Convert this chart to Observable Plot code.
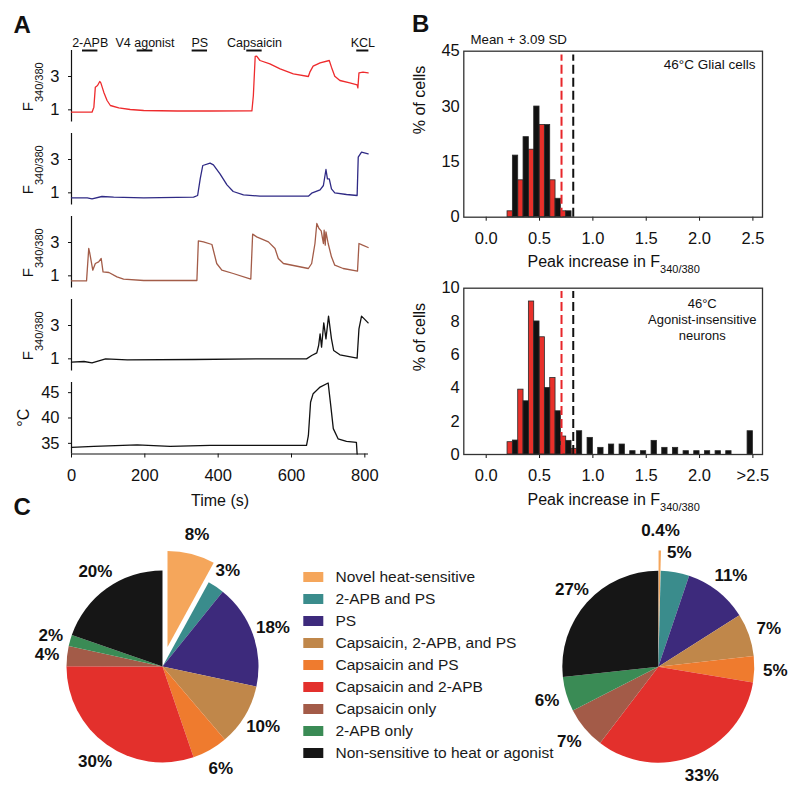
<!DOCTYPE html>
<html><head><meta charset="utf-8">
<script src="https://cdn.jsdelivr.net/npm/d3@7"></script>
<script src="https://cdn.jsdelivr.net/npm/@observablehq/plot@0.6"></script>
<style>
html,body{margin:0;padding:0;background:#fff;overflow:hidden;}
#fig{position:relative;width:800px;height:806px;background:#fff;}
#fig svg{position:absolute;left:0;top:0;max-width:none;overflow:visible;background:transparent;}
</style></head><body><div id="fig"></div>
<script>
const FONT = '"Liberation Sans", Arial, Helvetica, sans-serif';

// ---------- Panel A data ----------
const stimNames = ["2-APB", "V4 agonist", "PS", "Capsaicin", "KCL"];
const stimStart = [30, 179, 329, 478, 778];
const stimEnd   = [72, 222, 371, 520, 811];

const redT = [0, 56, 61, 65, 71, 77, 80, 88, 97, 106, 129, 160, 197, 288, 378, 492, 496, 501, 505, 514, 541, 569, 605, 646, 650, 659, 678, 703, 709, 718, 732, 759, 779, 781, 784, 795, 809];
const redF = [0.86, 0.86, 1.16, 2.36, 2.46, 2.7, 2.62, 2.06, 1.56, 1.26, 1.12, 1.02, 0.96, 0.93, 0.93, 0.94, 1.86, 4.2, 4.22, 3.96, 3.76, 3.46, 3.16, 3.0, 3.26, 3.62, 3.82, 3.96, 3.56, 3.02, 2.76, 2.62, 2.5, 2.32, 3.22, 3.26, 3.22];

const blueT = [0, 43, 56, 83, 115, 197, 333, 344, 351, 358, 378, 387, 405, 424, 441, 469, 514, 646, 655, 678, 687, 694, 698, 703, 709, 718, 750, 779, 782, 791, 809];
const blueF = [0.7, 0.7, 0.64, 0.78, 0.74, 0.7, 0.74, 0.84, 1.84, 2.64, 2.78, 2.68, 2.14, 1.48, 1.08, 0.88, 0.8, 0.8, 0.98, 1.18, 1.44, 2.4, 1.84, 1.84, 1.24, 1.0, 0.9, 0.84, 3.14, 3.44, 3.34];

const brownT = [0, 41, 47, 50, 58, 65, 74, 81, 86, 102, 124, 142, 197, 342, 346, 360, 383, 396, 410, 441, 489, 494, 505, 537, 555, 564, 578, 646, 655, 664, 669, 675, 681, 687, 689, 692, 694, 700, 709, 718, 741, 780, 784, 794, 809];
const brownF = [0.7, 0.7, 2.64, 2.34, 1.34, 1.74, 1.84, 2.04, 1.24, 1.2, 0.94, 0.8, 0.72, 0.72, 3.1, 3.04, 2.88, 1.74, 1.34, 1.14, 0.8, 3.5, 3.34, 3.04, 2.64, 2.04, 1.74, 1.44, 1.74, 2.94, 4.14, 3.84, 3.7, 2.94, 3.74, 2.84, 3.64, 2.94, 2.14, 1.64, 1.44, 1.28, 2.94, 2.84, 2.7];

const blackT = [0, 34, 56, 93, 152, 333, 514, 641, 655, 669, 674, 678, 682, 688, 694, 701, 709, 715, 732, 779, 784, 791, 809];
const blackF = [0.8, 0.84, 0.76, 1.0, 0.94, 0.96, 1.0, 1.0, 1.2, 1.36, 1.8, 2.5, 1.7, 3.16, 2.2, 3.56, 2.2, 1.5, 1.24, 1.04, 2.8, 3.56, 3.16];

const tempT = [0, 61, 179, 269, 378, 514, 641, 646, 652, 659, 678, 700, 707, 714, 727, 750, 777, 779];
const tempC = [34.2, 34.4, 34.7, 34.4, 34.6, 34.6, 34.6, 36.5, 43.1, 44.8, 46.1, 46.9, 42.5, 37.9, 35.9, 35.4, 35.2, 32.9];

const timeTicks = [0, 200, 400, 600, 800];
const fTicks = [1, 3];
const tempTicks = [35, 40, 45];

// ---------- Panel B data ----------
const glialRedBin   = [0.2, 0.3, 0.4, 0.5, 0.6, 0.7];
const glialRedPct   = [1.6, 10, 18.3, 25, 10, 1.6];
const glialBlackBin = [0.25, 0.35, 0.45, 0.55, 0.65, 0.75];
const glialBlackPct = [16.7, 21.7, 30, 25, 5, 1.6];

const neuronRedBin   = [0.2, 0.3, 0.4, 0.5, 0.6, 0.7, 0.8];
const neuronRedPct   = [0.74, 3.9, 9.2, 7.05, 4.6, 1.08, 0.34];
const neuronBlackBin = [0.25, 0.35, 0.45, 0.55, 0.65, 0.75, 0.85, 0.95, 1.05, 1.15, 1.25, 1.35, 1.45, 1.55, 1.65, 1.75, 1.85, 1.95, 2.05, 2.15, 2.25, 2.45];
const neuronBlackPct = [0.84, 3.2, 8.0, 4.0, 2.6, 0.82, 1.4, 1.0, 0.4, 0.6, 0.6, 0.2, 0.2, 0.82, 0.4, 0.4, 0.2, 0.2, 0.2, 0.2, 0.2, 1.4];
const binWidth = 0.05;

const thresholds = [0.706, 0.816];
const thresholdColors = ["#E8262A", "#111111"];
const peakTicks = [0, 0.5, 1, 1.5, 2, 2.5];
const glialTicks = [0, 15, 30, 45];
const neuronTicks = [0, 2, 4, 6, 8, 10];

// ---------- Panel C data ----------
const pieCats = ["Novel heat-sensitive", "2-APB and PS", "PS", "Capsaicin, 2-APB, and PS", "Capsaicin and PS", "Capsaicin and 2-APB", "Capsaicin only", "2-APB only", "Non-sensitive to heat or agonist"];
const pieColors = ["#F5A65B", "#3A8C8C", "#3D2A7C", "#C0874A", "#EF7B2E", "#E3302C", "#A35B48", "#3A8B55", "#161616"];
const leftPct = [8, 2.8, 17.6, 10.4, 6, 30.3, 3.4, 1.9, 19.7];
const leftLabels = ["8%", "3%", "18%", "10%", "6%", "30%", "4%", "2%", "20%"];
const rightPct = [0.4, 4.8, 10.8, 7.2, 4.4, 32.7, 7.1, 5.8, 26.7];
const rightLabels = ["0.4%", "5%", "11%", "7%", "5%", "33%", "7%", "6%", "27%"];

// ---------- helpers ----------
const fig = document.getElementById("fig");
function add(opts, fs = 16) {
  const svg = Plot.plot({width: 800, height: 806, ...opts});
  Object.assign(svg.style, {position: "absolute", left: "0px", top: "0px", maxWidth: "none", overflow: "visible",
    background: "transparent", fontFamily: FONT, fontSize: fs + "px", color: "#111"});
  fig.appendChild(svg);
  return svg;
}
function box(l, t, r, b) { return {marginLeft: l, marginTop: t, marginRight: 800 - r, marginBottom: 806 - b}; }
function richText(parts, {x, y, rotate = 0, anchor = "middle"}) {
  return (index, scales, values, dims) => {
    const fl = dims.marginLeft, fr = dims.width - dims.marginRight;
    const ft = dims.marginTop, fb = dims.height - dims.marginBottom;
    const f = {fl, fr, ft, fb, cx: (fl + fr) / 2, cy: (ft + fb) / 2};
    const t = d3.create("svg:text")
      .attr("transform", `translate(${x(f)},${y(f)}) rotate(${rotate})`)
      .attr("text-anchor", anchor).attr("fill", "#111").attr("font-family", FONT);
    for (const p of parts) t.append("tspan").attr("font-size", p.size).attr("dy", p.dy || 0).text(p.text);
    return t.node();
  };
}
const pts = (T, V) => T.map((t, i) => ({t, v: V[i]}));

// ---------- Panel A ----------
const XDOM = [0, 810];
const FDOM = [0.27, 4.56];
const TDOM = [32.9, 47.0];
const tops = [50, 133, 216, 299, 382];
const PH = 71.5;
const traces = [
  {T: redT, V: redF, c: "#EE2B2D"},
  {T: blueT, V: blueF, c: "#2F2A85"},
  {T: brownT, V: brownF, c: "#A35C48"},
  {T: blackT, V: blackF, c: "#111111"}
];
const fLabel = richText([{text: "F", size: 15}, {text: "340/380", size: 11, dy: 10}],
  {x: f => f.fl - 37.7, y: f => f.cy + 1, rotate: -90});

traces.forEach((tr, k) => {
  const marks = [
    Plot.ruleX([XDOM[0]], {stroke: "#111", strokeWidth: 1.2}),
    Plot.line(pts(tr.T, tr.V), {x: "t", y: "v", stroke: tr.c, strokeWidth: 1.3}),
    fLabel
  ];
  if (k === 0) {
    marks.push(
      Plot.ruleY(stimNames, {x1: (d, i) => stimStart[i], x2: (d, i) => stimEnd[i], y: () => FDOM[1], stroke: "#111", strokeWidth: 2}),
      Plot.text(stimNames, {x: (d, i) => (stimStart[i] + stimEnd[i]) / 2, y: () => FDOM[1], text: d => d, dy: -8, lineAnchor: "middle", fontSize: 12.5})
    );
  }
  add({
    ...box(71, tops[k], 368, tops[k] + PH),
    x: {domain: XDOM, axis: null},
    y: {domain: FDOM, ticks: fTicks, tickFormat: d => String(d), tickSize: 3, tickPadding: 9, label: null},
    marks
  }, 16.5);
});

add({
  ...box(71, tops[4], 368, tops[4] + PH),
  x: {domain: XDOM, ticks: timeTicks, tickFormat: d => String(d), tickSize: 4, tickPadding: 11, label: null},
  y: {domain: TDOM, ticks: tempTicks, tickFormat: d => String(d), tickSize: 3, tickPadding: 9, label: null},
  marks: [
    Plot.ruleX([XDOM[0]], {stroke: "#111", strokeWidth: 1.2}),
    Plot.ruleY([TDOM[0]], {stroke: "#111", strokeWidth: 1.2}),
    Plot.line(pts(tempT, tempC), {x: "t", y: "v", stroke: "#111", strokeWidth: 1.3}),
    richText([{text: "°C", size: 16}], {x: f => f.fl - 42.5, y: f => f.cy, rotate: -90}),
    Plot.text(["Time (s)"], {frameAnchor: "bottom", lineAnchor: "middle", dy: 46.5, text: d => d, fontSize: 16})
  ]
}, 16.5);

// ---------- Panel B ----------
const PDOM = [-0.21, 2.59];
function histogram({top, bottom, yDomain, yTicks, redBin, redPct, blackBin, blackPct, xFormat, dashTop, extra}) {
  const reds = redBin.map((b, i) => ({x1: b, x2: b + binWidth, y: redPct[i]}));
  const blacks = blackBin.map((b, i) => ({x1: b, x2: b + binWidth, y: blackPct[i]}));
  add({
    ...box(463.3, top, 762, bottom),
    x: {domain: PDOM, ticks: peakTicks, tickFormat: xFormat, tickSize: 4, tickPadding: 11, label: null},
    y: {domain: yDomain, ticks: yTicks, tickFormat: d => String(d), tickSize: 0, tickPadding: 4, label: null},
    marks: [
      Plot.rectY(reds, {x1: "x1", x2: "x2", y: "y", fill: "#E8302A", stroke: "#2a2a2a", strokeWidth: 0.8}),
      Plot.rectY(blacks, {x1: "x1", x2: "x2", y: "y", fill: "#111111", stroke: "#2a2a2a", strokeWidth: 0.8}),
      Plot.ruleX(thresholds, {x: d => d, y1: () => yDomain[0], y2: () => dashTop, stroke: (d, i) => thresholdColors[i], strokeWidth: 2, strokeDasharray: "9,4"}),
      Plot.frame({stroke: "#333", strokeWidth: 1.3}),
      Plot.text(["% of cells"], {frameAnchor: "left", lineAnchor: "middle", dx: -44, rotate: -90, text: d => d, fontSize: 16}),
      richText([{text: "Peak increase in F", size: 16}, {text: "340/380", size: 11, dy: 6}],
        {x: f => f.cx + 1, y: f => f.fb + 50.5}),
      ...extra
    ]
  }, 16.5);
}

histogram({
  top: 50.7, bottom: 216.7, yDomain: [0, 45], yTicks: glialTicks,
  redBin: glialRedBin, redPct: glialRedPct, blackBin: glialBlackBin, blackPct: glialBlackPct,
  xFormat: d => d.toFixed(1), dashTop: 44,
  extra: [
    Plot.text(["Mean + 3.09 SD"], {frameAnchor: "top-left", lineAnchor: "middle", textAnchor: "start", dx: 6.7, dy: -11, text: d => d, fontSize: 13.3}),
    Plot.text(["46°C Glial cells"], {frameAnchor: "top-right", lineAnchor: "middle", textAnchor: "end", dx: -7, dy: 13, text: d => d, fontSize: 13.5})
  ]
});

histogram({
  top: 287.7, bottom: 454, yDomain: [0, 10], yTicks: neuronTicks,
  redBin: neuronRedBin, redPct: neuronRedPct, blackBin: neuronBlackBin, blackPct: neuronBlackPct,
  xFormat: d => d === 2.5 ? ">2.5" : d.toFixed(1), dashTop: 9.8,
  extra: [
    Plot.text(["46°C\nAgonist-insensitive\nneurons"], {frameAnchor: "top-right", lineAnchor: "middle", textAnchor: "middle", dx: -60.3, dy: 30.6, lineHeight: 1.23, text: d => d, fontSize: 13})
  ]
});

// ---------- Panel C ----------
const colorScale = Plot.scale({color: {domain: pieCats, range: pieColors}});
const EXPLODE = 0.21, LABEL_R = 1.215;
function pie(values, labels, cx, cy, R) {
  const total = d3.sum(values);
  let acc = 0;
  const lay = values.map((v, i) => {
    const a0 = acc / total * 2 * Math.PI; acc += v;
    const a1 = acc / total * 2 * Math.PI;
    const mid = (a0 + a1) / 2;
    const off = i === 0 ? EXPLODE : 0;
    return {i, a0, a1, mid, ox: Math.sin(mid) * off, oy: Math.cos(mid) * off};
  });
  add({
    ...box(cx - R, cy - R, cx + R, cy + R),
    x: {domain: [-1, 1], axis: null},
    y: {domain: [-1, 1], axis: null},
    marks: [
      (index, scales, values_, dims) => {
        const fl = dims.marginLeft, fr = dims.width - dims.marginRight;
        const ft = dims.marginTop, fb = dims.height - dims.marginBottom;
        const sx = (scales && scales.x) || (v => fl + (v + 1) / 2 * (fr - fl));
        const sy = (scales && scales.y) || (v => fb - (v + 1) / 2 * (fb - ft));
        const r = sx(1) - sx(0);
        const arc = d3.arc().innerRadius(0).outerRadius(r);
        const g = d3.create("svg:g");
        for (const s of lay) {
          g.append("path")
            .attr("d", arc({startAngle: s.a0, endAngle: s.a1}))
            .attr("transform", `translate(${sx(s.ox)},${sy(s.oy)})`)
            .attr("fill", colorScale.apply(pieCats[s.i]));
        }
        return g.node();
      },
      Plot.text(lay, {
        x: s => Math.sin(s.mid) * LABEL_R + s.ox,
        y: s => Math.cos(s.mid) * LABEL_R + s.oy,
        text: s => labels[s.i], fontSize: 17, fontWeight: "bold", fill: "#111"
      })
    ]
  });
}
pie(leftPct, leftLabels, 162.5, 666.5, 96);
pie(rightPct, rightLabels, 658.3, 666.7, 96);

// legend
add({
  ...box(303.3, 564.6, 323.3, 764.4),
  x: {domain: [0, 1], axis: null},
  y: {domain: pieCats, axis: null, paddingInner: 0.55, paddingOuter: 0.275},
  color: {domain: pieCats, range: pieColors},
  marks: [
    Plot.barX(pieCats, {x1: () => 0, x2: () => 1, y: d => d, fill: d => d}),
    Plot.text(pieCats, {x: () => 1, y: d => d, dx: 11.7, textAnchor: "start", text: d => d, fontSize: 15.5, fill: "#1a1a1a"})
  ]
});

// panel letters
add({
  marginLeft: 0, marginRight: 0, marginTop: 0, marginBottom: 0,
  marks: [
    Plot.text(["A"], {frameAnchor: "top-left", lineAnchor: "middle", textAnchor: "start", dx: 13, dy: 24.5, text: d => d, fontSize: 24, fontWeight: "bold"}),
    Plot.text(["B"], {frameAnchor: "top-left", lineAnchor: "middle", textAnchor: "start", dx: 411.5, dy: 24, text: d => d, fontSize: 24, fontWeight: "bold"}),
    Plot.text(["C"], {frameAnchor: "top-left", lineAnchor: "middle", textAnchor: "start", dx: 13, dy: 507, text: d => d, fontSize: 24, fontWeight: "bold"})
  ]
});
</script></body></html>
